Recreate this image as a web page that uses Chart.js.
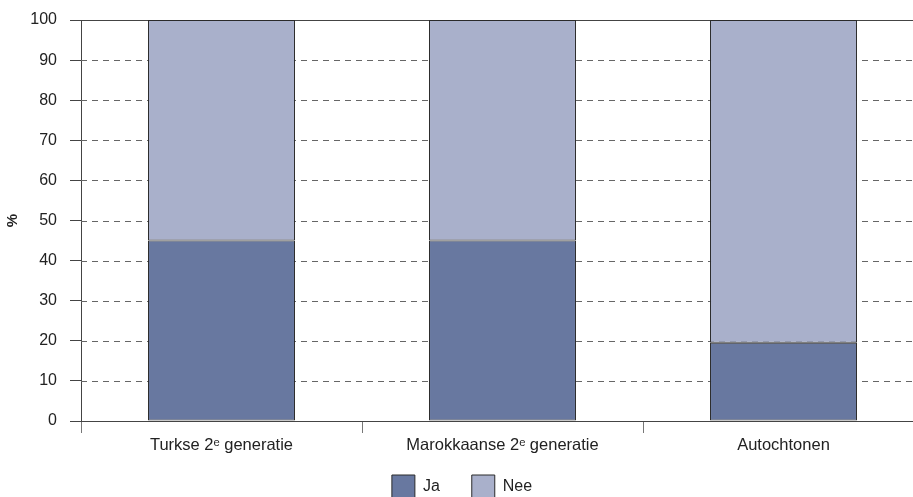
<!DOCTYPE html>
<html>
<head>
<meta charset="utf-8">
<script src="https://cdn.jsdelivr.net/npm/chart.js@4.4.1/dist/chart.umd.min.js"></script>
<style>
  html, body { margin: 0; padding: 0; background: #fff; overflow: hidden; }
  #wrap { position: relative; width: 924px; height: 511px; }
</style>
</head>
<body>
<div id="wrap"><canvas id="chart"></canvas></div>
<script>
const categories = ['Turkse 2\u1d49 generatie', 'Marokkaanse 2\u1d49 generatie', 'Autochtonen'];
const jaValues = [45, 45, 19.5];
const neeValues = [55, 55, 80.5];
const yTicks = [0, 10, 20, 30, 40, 50, 60, 70, 80, 90, 100];

const FONT = '"Liberation Sans", Arial, Helvetica, sans-serif';
const TEXT = '#222';
const LINE = '#444';
const LEGEND_TOP = 443;

const gridPlugin = {
    id: 'dashGrid',
    afterLayout(chart) {
        // pull the legend up closer to the axis labels
        const lg = chart.legend;
        if (lg) {
            const h = lg.bottom - lg.top;
            lg.top = LEGEND_TOP;
            lg.bottom = LEGEND_TOP + h;
        }
    },
    // dashed horizontal gridlines behind the bars, solid at 100
    beforeDatasetsDraw(chart) {
        const { ctx, chartArea, scales } = chart;
        ctx.save();
        ctx.lineWidth = 1;
        yTicks.forEach(v => {
            if (v === 0) return;
            const y = Math.round(scales.y.getPixelForValue(v)) + 0.5;
            ctx.beginPath();
            if (v === 100) {
                ctx.setLineDash([]);
                ctx.strokeStyle = LINE;
            } else {
                ctx.setLineDash([6, 5]);
                ctx.strokeStyle = '#666';
            }
            ctx.moveTo(chartArea.left, y);
            ctx.lineTo(chartArea.right, y);
            ctx.stroke();
        });
        ctx.restore();
    }
};

new Chart(document.getElementById('chart'), {
    type: 'bar',
    data: {
        labels: categories,
        datasets: [
            { label: 'Ja', data: jaValues, backgroundColor: '#6878a0', borderColor: '#2a2a2a', borderWidth: 1, borderSkipped: false },
            { label: 'Nee', data: neeValues, backgroundColor: '#a9b0cb', borderColor: '#2a2a2a', borderWidth: 1, borderSkipped: false }
        ]
    },
    options: {
        responsive: true,
        maintainAspectRatio: false,
        animation: false,
        devicePixelRatio: 1,
        layout: { padding: { top: 20, left: 0, right: 0, bottom: 0 } },
        datasets: { bar: { categoryPercentage: 1, barPercentage: 0.523 } },
        plugins: {
            legend: {
                position: 'bottom',
                maxHeight: 54,
                labels: { boxWidth: 23, boxHeight: 23, padding: 32, color: TEXT, font: { family: FONT, size: 16 } }
            },
            tooltip: { enabled: false }
        },
        scales: {
            x: {
                stacked: true,
                offset: true,
                afterFit: s => { s.height = 36; },
                grid: { offset: true, drawOnChartArea: false, drawTicks: true, tickLength: 12, tickColor: '#777', lineWidth: 1 },
                border: { display: true, color: LINE, width: 1 },
                ticks: { color: TEXT, padding: 3, maxRotation: 0, font: { family: FONT, size: 16.5 } }
            },
            y: {
                stacked: true,
                min: 0,
                max: 100,
                afterFit: s => { s.width = 81; },
                afterBuildTicks: s => { s.ticks = yTicks.map(v => ({ value: v })); },
                grid: { drawOnChartArea: false, drawTicks: true, tickLength: 11, tickColor: LINE, lineWidth: 1 },
                border: { display: true, color: LINE, width: 1 },
                ticks: { color: TEXT, padding: 13, font: { family: FONT, size: 16, lineHeight: 0.8 } },
                title: { display: true, text: '%', color: TEXT, padding: { top: 4, bottom: 0 }, font: { family: FONT, size: 15, weight: 'bold' } }
            }
        }
    },
    plugins: [gridPlugin]
});
</script>
</body>
</html>
